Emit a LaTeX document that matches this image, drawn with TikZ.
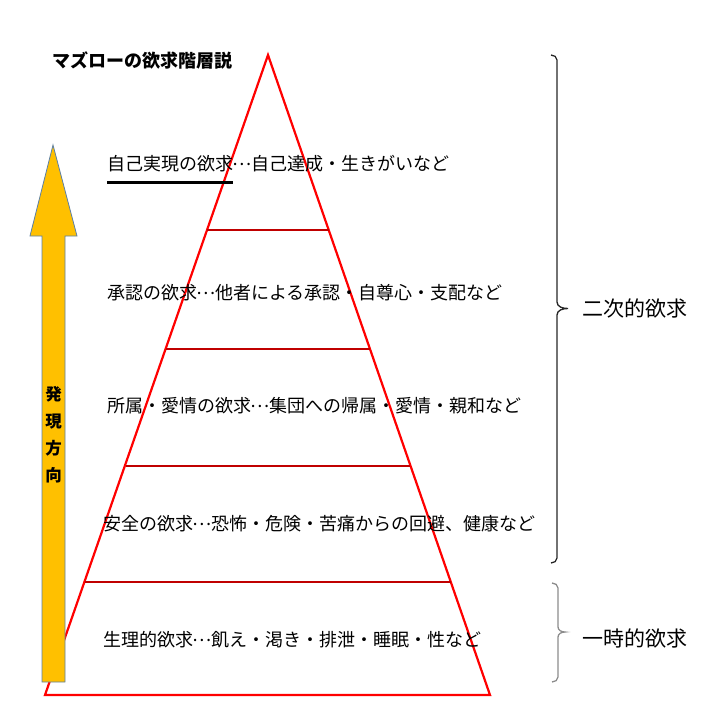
\documentclass[tikz,border=0pt]{standalone}
\usepackage{fontspec}
\setmainfont{Noto Sans CJK JP}
\newfontfamily\jp{Noto Sans CJK JP}
\newcommand{\midelli}{\makebox[1em][c]{\raisebox{0.3em}{…}}}
\definecolor{triRed}{HTML}{FF0000}
\definecolor{divRed}{HTML}{C00000}
\definecolor{arrowFill}{HTML}{FFC000}
\definecolor{arrowEdge}{HTML}{5B7FA6}
\definecolor{braceGray}{HTML}{8C8C8C}
\begin{document}
\begin{tikzpicture}[x=1pt,y=-1pt,
  lvl/.style={anchor=west,inner sep=0pt,font=\jp\fontsize{18}{20}\selectfont},
  grp/.style={anchor=west,inner sep=0pt,font=\jp\fontsize{21}{24}\selectfont},
  divider/.style={divRed,line width=2.4pt},
  tri/.style={triRed,line width=2.2pt,line join=miter},
  bracestyle/.style={line width=1.3pt}]
\useasboundingbox (0,0) rectangle (720,720);
% pyramid
\coordinate (apex) at (268,55);
\coordinate (bl) at (45,695);
\coordinate (br) at (490,695);
\draw[tri] (apex) -- (br) -- (bl) -- cycle;
% dividers
\draw[divider] (207,230) -- (329,230);
\draw[divider] (166,349) -- (370,349);
\draw[divider] (126,466) -- (410,466);
\draw[divider] (85,582) -- (451,582);
% arrow
\coordinate (atip) at (53,145);
\draw[arrowEdge,line width=0.8pt,fill=arrowFill]
  (42,682) -- (42,236) -- (30,236) -- (atip) -- (77,236) -- (65,236) -- (65,682) -- cycle;
\node[inner sep=0pt,align=center,font=\jp\bfseries\fontsize{16.5}{27}\selectfont] (dir) at (53.5,435) {発\\現\\方\\向};
% title
\node[anchor=west,inner sep=0pt,font=\jp\bfseries\fontsize{18}{20}\selectfont] (title) at (52,60) {マズローの欲求階層説};
% levels
\node[lvl] (l1) at (107,164) {自己実現の欲求\midelli 自己達成・生きがいなど};
\draw[line width=2.2pt] (107,182.5) -- (233,182.5);
\node[lvl] (l2) at (107,293) {承認の欲求\midelli 他者による承認・自尊心・支配など};
\node[lvl] (l3) at (107,406) {所属・愛情の欲求\midelli 集団への帰属・愛情・親和など};
\node[lvl] (l4) at (103,524) {安全の欲求\midelli 恐怖・危険・苦痛からの回避、健康など};
\node[lvl] (l5) at (103,640) {生理的欲求\midelli 飢え・渇き・排泄・睡眠・性など};
% braces
\draw[bracestyle,black!85] (551,55) to[out=0,in=90] (557,60) -- (557,302)
  to[out=-90,in=180] (568,308.5) to[out=180,in=90] (557,315) -- (557,558) to[out=-90,in=0] (551,563);
\draw[bracestyle,braceGray] (552,583) to[out=0,in=90] (558,588) -- (558,627)
  to[out=-90,in=180] (565,632) to[out=180,in=90] (558,637) -- (558,677) to[out=-90,in=0] (552,682);
\node[grp] (g2) at (582,308) {二次的欲求};
\node[grp] (g1) at (582,638) {一時的欲求};
\end{tikzpicture}
\end{document}
